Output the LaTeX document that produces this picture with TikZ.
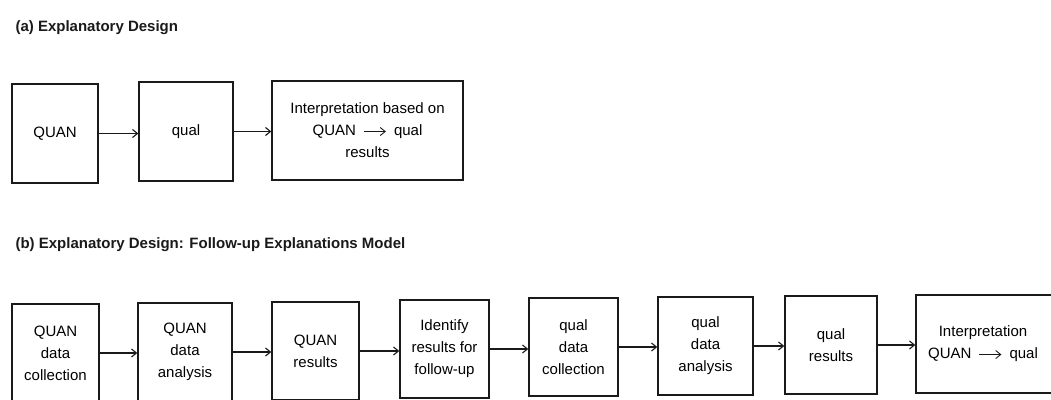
\documentclass[tikz,border=0pt]{standalone}
\usepackage{fontspec}
\setmainfont{Liberation Sans}
\usetikzlibrary{arrows.meta}
\definecolor{ink}{HTML}{1A1A1A}
\tikzset{
  stage/.style={draw=ink,line width=1.3pt,align=center,inner sep=2pt,
                font=\fontsize{15}{22}\selectfont},
  flow/.style={draw=ink,line width=1.1pt,-{Straight Barb[length=5pt,width=8pt]}},
  heading/.style={anchor=base west,text=ink,font=\bfseries\fontsize{15}{18}\selectfont},
}
% short arrow set inside the box text
\newcommand{\thento}{\enspace\tikz[baseline=-0.55ex]\draw[flow,line width=0.9pt] (0,0) -- (22,0);\enspace}

\begin{document}
\begin{tikzpicture}[x=1pt,y=-1pt]
  \useasboundingbox (0,0) rectangle (1051,399);

  % (a) three-step design
  \node[heading] (titleA) at (12,31) {(a) Explanatory Design};
  \node[stage,minimum width=86pt,minimum height=99pt]  (quanA)   at (55,133.5)  {QUAN};
  \node[stage,minimum width=94pt,minimum height=99pt]  (qualA)   at (186,131.5) {qual};
  \node[stage,minimum width=191pt,minimum height=99pt] (interpA) at (367.5,130.5)
    {Interpretation based on\\QUAN\thento qual\\results};
  \draw[flow] (quanA.east) -- (quanA.east -| qualA.west);
  \draw[flow] (qualA.east) -- (qualA.east -| interpA.west);

  % (b) follow-up explanations model
  \node[heading] (titleB) at (12,248) {(b) Explanatory Design: Follow-up Explanations Model};
  \node[stage,minimum width=87pt,minimum height=98pt]  (quanColl) at (55.5,353) {QUAN\\data\\collection};
  \node[stage,minimum width=94pt,minimum height=98pt]  (quanAnal) at (185,352)  {QUAN\\data\\analysis};
  \node[stage,minimum width=87pt,minimum height=98pt]  (quanRes)  at (315.5,351) {QUAN\\results};
  \node[stage,minimum width=89pt,minimum height=98pt]  (followUp) at (444.5,349) {Identify\\results for\\follow-up};
  \node[stage,minimum width=89pt,minimum height=98pt]  (qualColl) at (573.5,347) {qual\\data\\collection};
  \node[stage,minimum width=95pt,minimum height=98pt]  (qualAnal) at (705.5,346) {qual\\data\\analysis};
  \node[stage,minimum width=92pt,minimum height=98pt]  (qualRes)  at (831,345)  {qual\\results};
  \node[stage,minimum width=154pt,minimum height=98pt] (interpB)  at (993,344)  {};
  \node[stage,draw=none] (interpTxt) at (983,344)
    {Interpretation\\QUAN\thento qual};
  \foreach \a/\b in {quanColl/quanAnal,quanAnal/quanRes,quanRes/followUp,followUp/qualColl,
                     qualColl/qualAnal,qualAnal/qualRes,qualRes/interpB}
    \draw[flow] (\a.east) -- (\a.east -| \b.west);
\end{tikzpicture}
\end{document}
